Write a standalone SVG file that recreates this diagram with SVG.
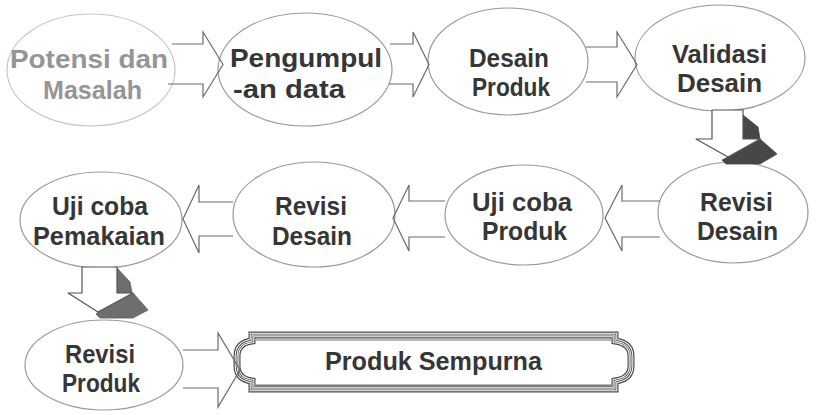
<svg xmlns="http://www.w3.org/2000/svg" width="820" height="415" viewBox="0 0 820 415">
<style>
  .ell { fill: #fff; stroke: #9a9a9a; stroke-width: 1.2; }
  .ell1 { fill: #fff; stroke: #c4c4c4; stroke-width: 1.2; }
  .t { font-family: "Liberation Sans", Arial, sans-serif; font-weight: bold; font-size: 25px; fill: #363636; }
  .tg { fill: #959595; }
  .arr { fill: none; stroke: #6a6a6a; stroke-width: 1.2; stroke-linejoin: miter; }
  .down { fill: #fff; stroke: #555; stroke-width: 1.2; stroke-linejoin: round; }
  .shade1 { fill: #474747; stroke: #474747; stroke-width: 0.8; }
  .shade2 { fill: #6e6e6e; stroke: #5a5a5a; stroke-width: 0.8; }
  .ban-a { fill: #fff; stroke: #4a4a4a; stroke-width: 7; stroke-linejoin: miter; }
  .ban-b { fill: none; stroke: #fff; stroke-width: 4.6; stroke-linejoin: miter; }
  .ban-c { fill: none; stroke: #4a4a4a; stroke-width: 2.6; stroke-linejoin: miter; }
  .ban-d { fill: none; stroke: #fff; stroke-width: 1; stroke-linejoin: miter; }
</style>

<g id="node-potensi">
  <ellipse class="ell1" cx="91" cy="70" rx="84" ry="56"/>
  <text class="t tg" x="10" y="68" textLength="158" lengthAdjust="spacingAndGlyphs">Potensi dan</text>
  <text class="t tg" x="43" y="99" textLength="99" lengthAdjust="spacingAndGlyphs">Masalah</text>
</g>
<g id="node-pengumpulan">
  <ellipse class="ell" cx="305" cy="69.5" rx="87" ry="56.5"/>
  <text class="t" x="230" y="67" textLength="152" lengthAdjust="spacingAndGlyphs">Pengumpul</text>
  <text class="t" x="233" y="98" textLength="112" lengthAdjust="spacingAndGlyphs">-an data</text>
</g>
<g id="node-desain-produk">
  <ellipse class="ell" cx="508" cy="61.5" rx="80" ry="53.5"/>
  <text class="t" x="469" y="67" textLength="80" lengthAdjust="spacingAndGlyphs">Desain</text>
  <text class="t" x="472" y="96" textLength="78" lengthAdjust="spacingAndGlyphs">Produk</text>
</g>
<g id="node-validasi">
  <ellipse class="ell" cx="720" cy="58" rx="85" ry="53"/>
  <text class="t" x="672" y="63" textLength="95" lengthAdjust="spacingAndGlyphs">Validasi</text>
  <text class="t" x="677" y="92" textLength="85" lengthAdjust="spacingAndGlyphs">Desain</text>
</g>
<g id="node-revisi-desain-1">
  <ellipse class="ell" cx="733" cy="212.5" rx="75" ry="50.5"/>
  <text class="t" x="700" y="211" textLength="73" lengthAdjust="spacingAndGlyphs">Revisi</text>
  <text class="t" x="697" y="240" textLength="81" lengthAdjust="spacingAndGlyphs">Desain</text>
</g>
<g id="node-uji-produk">
  <ellipse class="ell" cx="524" cy="215" rx="79" ry="50"/>
  <text class="t" x="472" y="211" textLength="100" lengthAdjust="spacingAndGlyphs">Uji coba</text>
  <text class="t" x="482" y="240" textLength="85" lengthAdjust="spacingAndGlyphs">Produk</text>
</g>
<g id="node-revisi-desain-2">
  <ellipse class="ell" cx="314" cy="214.5" rx="81" ry="52.5"/>
  <text class="t" x="275" y="215" textLength="72" lengthAdjust="spacingAndGlyphs">Revisi</text>
  <text class="t" x="272" y="245" textLength="80" lengthAdjust="spacingAndGlyphs">Desain</text>
</g>
<g id="node-uji-pemakaian">
  <ellipse class="ell" cx="101" cy="220" rx="81" ry="48"/>
  <text class="t" x="52" y="215" textLength="96" lengthAdjust="spacingAndGlyphs">Uji coba</text>
  <text class="t" x="33" y="245" textLength="132" lengthAdjust="spacingAndGlyphs">Pemakaian</text>
</g>
<g id="node-revisi-produk">
  <ellipse class="ell" cx="104" cy="365" rx="79" ry="45"/>
  <text class="t" x="65" y="363" textLength="70" lengthAdjust="spacingAndGlyphs">Revisi</text>
  <text class="t" x="62" y="392" textLength="78" lengthAdjust="spacingAndGlyphs">Produk</text>
</g>
<g id="node-produk-sempurna">
  <path class="ban-a" d="M252,335 H615 V341 Q631,343 631,356 V366 Q631,379 615,381 V389 H252 V381 Q237,379 237,366 V356 Q237,343 252,341 Z"/>
  <path class="ban-b" d="M252,335 H615 V341 Q631,343 631,356 V366 Q631,379 615,381 V389 H252 V381 Q237,379 237,366 V356 Q237,343 252,341 Z"/>
  <path class="ban-c" d="M252,335 H615 V341 Q631,343 631,356 V366 Q631,379 615,381 V389 H252 V381 Q237,379 237,366 V356 Q237,343 252,341 Z"/>
  <path class="ban-d" d="M252,335 H615 V341 Q631,343 631,356 V366 Q631,379 615,381 V389 H252 V381 Q237,379 237,366 V356 Q237,343 252,341 Z"/>
  <rect x="256" y="340" width="355" height="45" fill="#fff"/>
  <path d="M256,340 H611 M256,385 H611" stroke="#4a4a4a" stroke-width="0.8" fill="none"/>
  <text class="t" x="325" y="370" textLength="217" lengthAdjust="spacingAndGlyphs">Produk Sempurna</text>
</g>

<g id="connectors">
  <path class="arr" d="M172,44 H203 V32 L223,64.5 L203,97 V84 H168"/>
  <path class="arr" d="M390,44 H413 V32 L429,64.5 L413,97 V84 H389"/>
  <path class="arr" d="M586,47 H617 V32 L637,64.5 L617,97 V82 H586"/>

  <path class="arr" d="M660,201 H622 V185 L605,218 L622,251 V237 H660"/>
  <path class="arr" d="M445,201 H409 V185 L393,218 L409,251 V237 H445"/>
  <path class="arr" d="M233,202 H199 V185 L183,219 L199,253 V236 H233"/>

  <path class="arr" d="M183,350 H218 V333 L240,370 L218,407 V388 H183"/>

  <path class="shade1" d="M743,115 L758,127 L760,139 L743,139 Z"/>
  <path class="shade1" d="M760,139 L777,154 L760,164 L726,164 L722,160 L728,157 Z"/>
  <path class="down" d="M712,110 H743 V139 H760 L728,157 L696,139 H712 Z"/>

  <path class="shade2" d="M117,268 L130,282 L132,293 L117,293 Z"/>
  <path class="shade2" d="M133,293 L148,310 L133,318 L100,318 L96,314 L98,312 Z"/>
  <path class="down" d="M82,267 H117 V293 H133 L98,312 L68,293 H82 Z"/>
</g>
</svg>
